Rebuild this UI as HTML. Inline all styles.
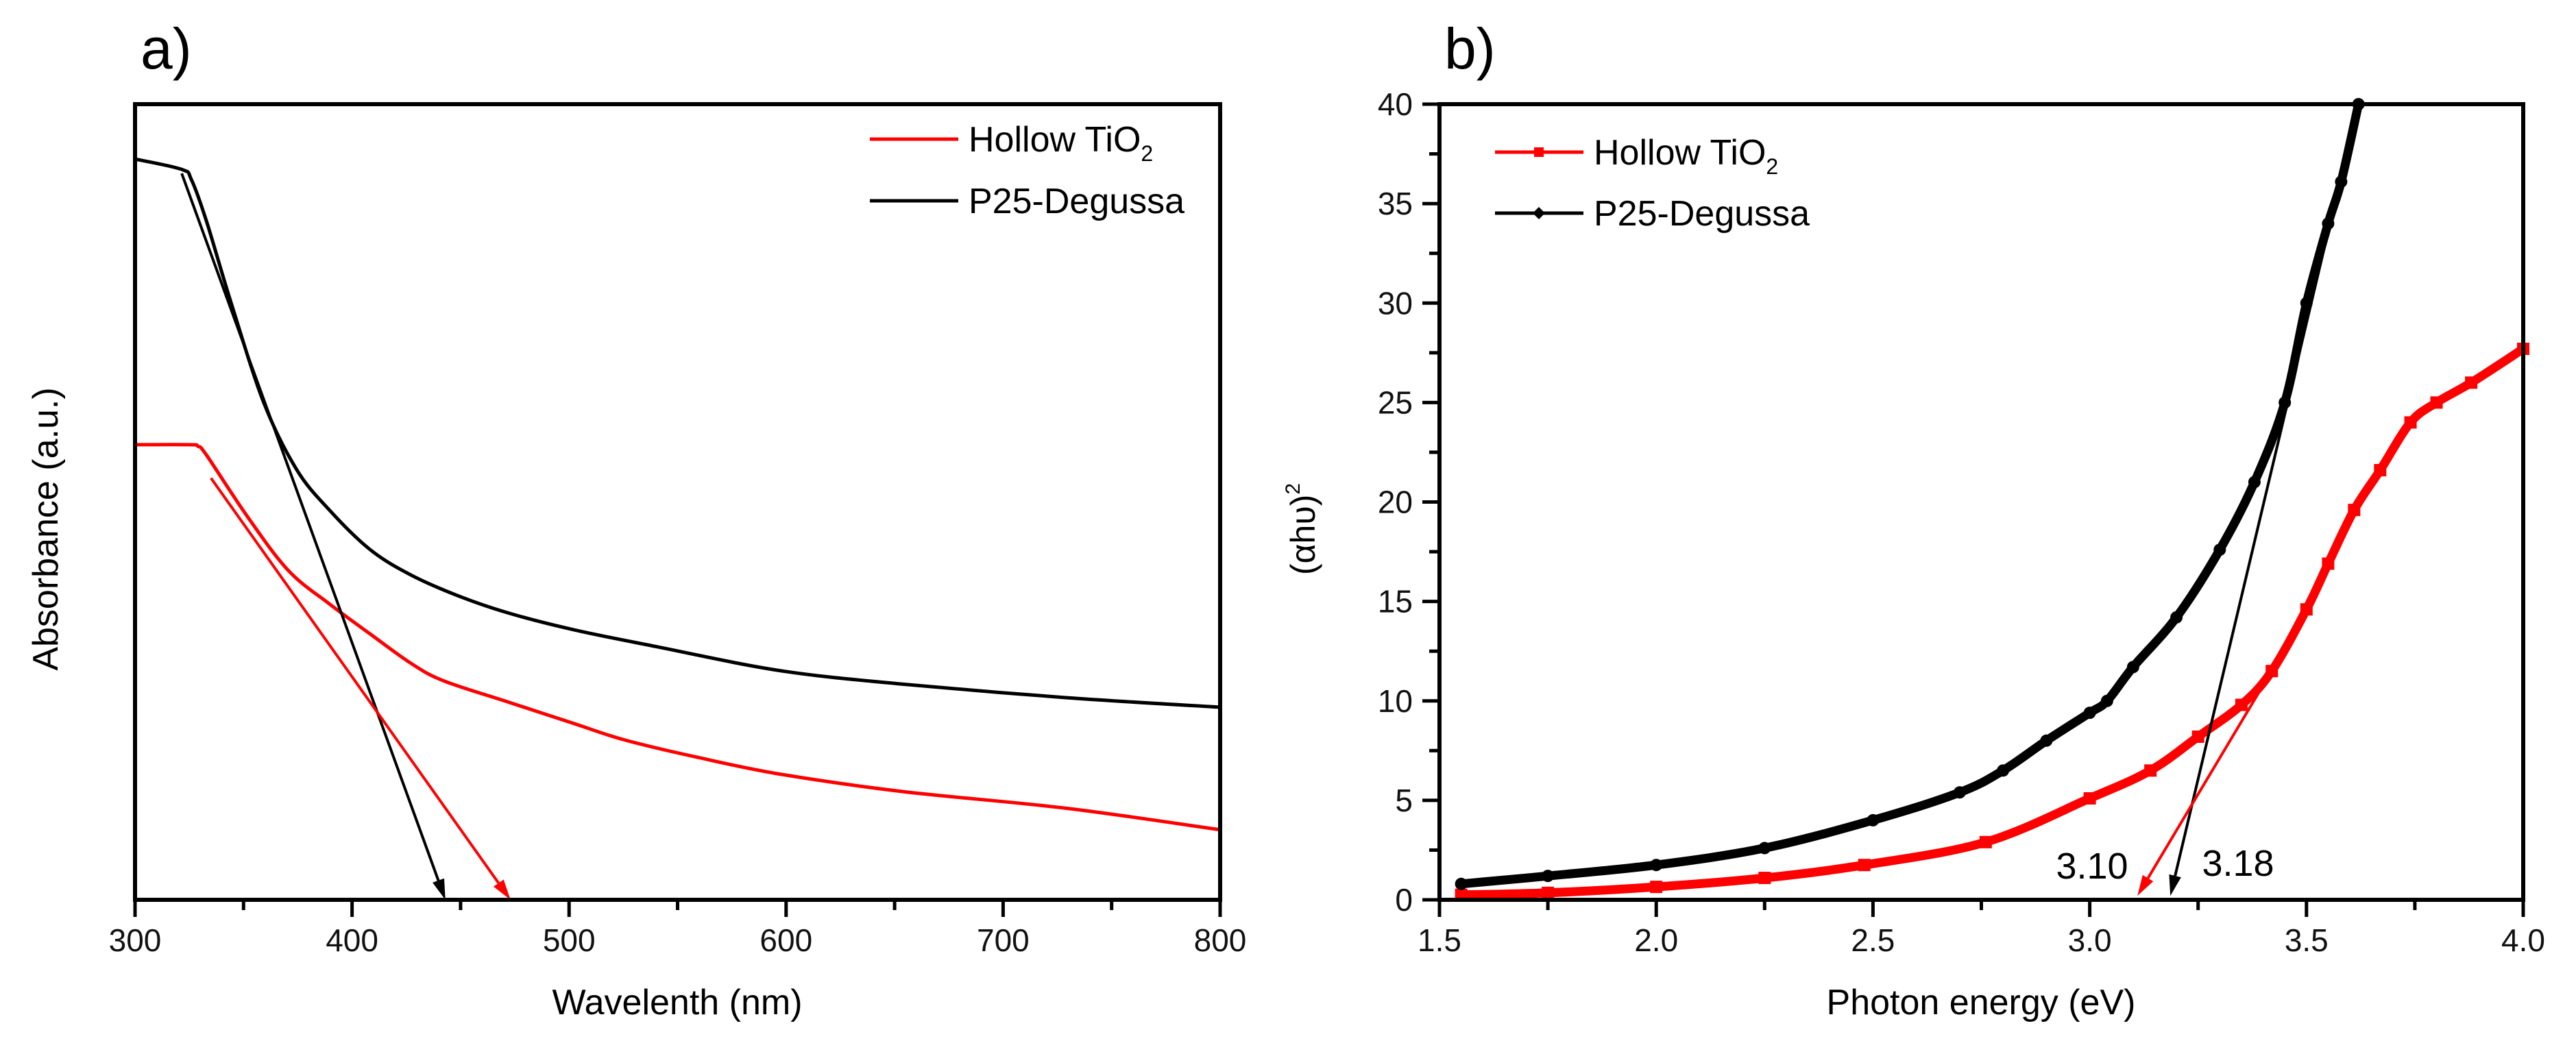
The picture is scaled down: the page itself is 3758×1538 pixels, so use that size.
<!DOCTYPE html>
<html><head><meta charset="utf-8"><style>
html,body{margin:0;padding:0;background:#fff;}
svg text{font-family:"Liberation Sans",sans-serif;}
</style></head><body>
<svg id="fig" width="3758" height="1533" viewBox="0 0 3758 1533" xmlns="http://www.w3.org/2000/svg">
<g id="pa"></g>
<g id="pb"></g>
</svg>
<script>
// ---------- Panel a data ----------
const aWave = [300,321.5,326,332.9,344.2,359.3,374.4,389.5,408.4,427.3,449.9,472.6,502.8,540.6,597.2,653.9,729.4,800];
const aP25 = [93.1,91.8,90.5,85.3,75.1,62.5,54.1,49.0,44.0,40.8,38.1,36.0,33.9,31.8,28.8,27.1,25.4,24.2];
const aHollowWave = [300,325.3,329,332.9,351.7,370.6,389.5,408.4,427.3,442.4,472.6,502.8,525.5,559.4,597.2,653.9,729.4,800];
const aHollow = [57.2,57.2,57.0,55.9,48.2,41.4,37.2,33.4,29.7,27.5,24.8,22.1,20.1,17.9,15.8,13.6,11.5,8.8];
const aXTicks = [300,400,500,600,700,800];
const aTanP25 = [[321.5,91.3],[443,0]];
const aTanHollow = [[335,53],[473,0]];
// ---------- Panel b data ----------
const bP25E = [1.55,1.75,2.0,2.25,2.5,2.7,2.8,2.9,3.0,3.04,3.1,3.2,3.3,3.38,3.45,3.5,3.55,3.58,3.62];
const bP25 = [0.8,1.2,1.75,2.6,4.0,5.4,6.5,8.0,9.4,10.0,11.7,14.2,17.6,21.0,25.0,30.0,34.0,36.1,40];
const bHolE = [1.55,1.75,2.0,2.25,2.48,2.76,3.0,3.14,3.25,3.35,3.42,3.5,3.55,3.61,3.67,3.74,3.8,3.88,4.0];
const bHol = [0.25,0.35,0.65,1.1,1.75,2.9,5.1,6.5,8.2,9.8,11.5,14.6,16.9,19.6,21.6,24.0,25.0,26.0,27.7];
const bXTicks = [1.5,2.0,2.5,3.0,3.5,4.0];
const bYTicks = [0,5,10,15,20,25,30,35,40];
const bTanP25 = [[3.62,40],[3.186,0.2]];
const bTanHollow = [[3.447,12.5],[3.11,0.2]];

const NS="http://www.w3.org/2000/svg";
function mk(parent,tag,attrs,txt){const e=document.createElementNS(NS,tag);for(const k in attrs)e.setAttribute(k,attrs[k]);if(txt!==undefined)e.textContent=txt;parent.appendChild(e);return e;}

function line(g,xs,ys,fx,fy,color,w,name){
  const P=xs.map((x,i)=>[fx(x),fy(ys[i])]);
  let d='M'+P[0][0].toFixed(1)+','+P[0][1].toFixed(1);
  for(let i=0;i<P.length-1;i++){
    const p0=P[Math.max(0,i-1)],p1=P[i],p2=P[i+1],p3=P[Math.min(P.length-1,i+2)];
    const c1=[p1[0]+(p2[0]-p0[0])/6,p1[1]+(p2[1]-p0[1])/6];
    const c2=[p2[0]-(p3[0]-p1[0])/6,p2[1]-(p3[1]-p1[1])/6];
    d+=`C${c1[0].toFixed(1)},${c1[1].toFixed(1)} ${c2[0].toFixed(1)},${c2[1].toFixed(1)} ${p2[0].toFixed(1)},${p2[1].toFixed(1)}`;
  }
  const p=mk(g,'path',{d:d,fill:'none',stroke:color,'stroke-width':w,'stroke-linejoin':'round'});
  
  
  return p;
}
function arrow(g,pts,fx,fy,color,name){
  const x1=fx(pts[0][0]),y1=fy(pts[0][1]),x2=fx(pts[1][0]),y2=fy(pts[1][1]);
  const ang=Math.atan2(y2-y1,x2-x1),L=30,W=9;
  const bx=x2-L*Math.cos(ang),by=y2-L*Math.sin(ang);
  const gg=mk(g,'g',{});
  
  
  mk(gg,'line',{x1:x1,y1:y1,x2:bx,y2:by,stroke:color,'stroke-width':4});
  mk(gg,'polygon',{points:`${x2},${y2} ${bx-W*Math.sin(ang)},${by+W*Math.cos(ang)} ${bx+W*Math.sin(ang)},${by-W*Math.cos(ang)}`,fill:color});
}

// ---------- Panel a ----------
const A={l:197,r:1780,t:152,b:1313};
const ax=v=>A.l+(v-300)/500*(A.r-A.l);
const ay=v=>A.b-v/100*(A.b-A.t);
const pa=document.getElementById('pa');
let t=mk(pa,'text',{x:205,y:100,'font-size':84},'a)');


line(pa,aWave,aP25,ax,ay,'#000',5,'p25-absorbance-line');
line(pa,aHollowWave,aHollow,ax,ay,'#f00',5,'hollow-tio2-absorbance-line');
arrow(pa,aTanP25,ax,ay,'#000','p25-tangent-arrow');
arrow(pa,aTanHollow,ax,ay,'#f00','hollow-tangent-arrow');
let fr=mk(pa,'rect',{x:A.l,y:A.t,width:A.r-A.l,height:A.b-A.t,fill:'none',stroke:'#000','stroke-width':6});


for(let v=300;v<=800;v+=50){
  const major=aXTicks.includes(v);
  mk(pa,'line',{x1:ax(v),y1:A.b,x2:ax(v),y2:A.b+(major?25:15),stroke:'#000','stroke-width':5});
}
aXTicks.forEach(v=>{const e=mk(pa,'text',{x:ax(v),y:1388,'font-size':46,'text-anchor':'middle',fill:'#111'},String(v));
  
  });
t=mk(pa,'text',{x:988,y:1480,'font-size':52,'text-anchor':'middle'},'Wavelenth (nm)');


t=mk(pa,'text',{x:0,y:0,'font-size':52,'text-anchor':'middle',transform:'translate(84,772) rotate(-90)'},'Absorbance (a.u.)');


let lg=mk(pa,'g',{});


mk(lg,'line',{x1:1269,y1:203,x2:1398,y2:203,stroke:'#f00','stroke-width':5});
t=mk(lg,'text',{x:1413,y:221,'font-size':52});t.innerHTML='Hollow TiO<tspan font-size="32" dy="14">2</tspan>';


mk(lg,'line',{x1:1269,y1:293,x2:1398,y2:293,stroke:'#000','stroke-width':5});
t=mk(lg,'text',{x:1413,y:311,'font-size':52},'P25-Degussa');



// ---------- Panel b ----------
const B={l:2100,r:3681,t:152,b:1313};
const bx=v=>B.l+(v-1.5)/2.5*(B.r-B.l);
const by=v=>B.b-v/40*(B.b-B.t);
const pb=document.getElementById('pb');
t=mk(pb,'text',{x:2107,y:100,'font-size':84},'b)');


line(pb,bHolE,bHol,bx,by,'#f00',13,'hollow-tio2-tauc-line');
bHolE.forEach((e,i)=>{const m=mk(pb,'rect',{x:bx(e)-9,y:by(bHol[i])-9,width:18,height:18,fill:'#f00'});
  
  });
line(pb,bP25E,bP25,bx,by,'#000',13,'p25-tauc-line');
bP25E.forEach((e,i)=>{const m=mk(pb,'circle',{cx:bx(e),cy:by(bP25[i]),r:9,fill:'#000'});
  
  });
arrow(pb,bTanP25,bx,by,'#000','p25-tangent-arrow-b');
arrow(pb,bTanHollow,bx,by,'#f00','hollow-tangent-arrow-b');
fr=mk(pb,'rect',{x:B.l,y:B.t,width:B.r-B.l,height:B.b-B.t,fill:'none',stroke:'#000','stroke-width':6});


for(let v=1.5;v<=4.001;v+=0.25){
  const major=Math.abs(v*2-Math.round(v*2))<1e-6;
  mk(pb,'line',{x1:bx(v),y1:B.b,x2:bx(v),y2:B.b+(major?25:15),stroke:'#000','stroke-width':5});
}
for(let v=0;v<=40.001;v+=2.5){
  const major=Math.abs(v/5-Math.round(v/5))<1e-6;
  mk(pb,'line',{x1:B.l,y1:by(v),x2:B.l-(major?25:15),y2:by(v),stroke:'#000','stroke-width':5});
}
bXTicks.forEach(v=>{const e=mk(pb,'text',{x:bx(v),y:1388,'font-size':46,'text-anchor':'middle',fill:'#111'},v.toFixed(1));
  
  });
bYTicks.forEach(v=>{const e=mk(pb,'text',{x:2061,y:by(v)+16,'font-size':46,'text-anchor':'end',fill:'#111'},String(v));
  
  });
t=mk(pb,'text',{x:2890,y:1480,'font-size':52,'text-anchor':'middle'},'Photon energy (eV)');


t=mk(pb,'text',{x:0,y:0,'font-size':50,'text-anchor':'middle','font-family':'"Liberation Serif",serif',transform:'translate(1918,772) rotate(-90)'});
t.innerHTML='(αhυ)<tspan font-size="30" dy="-22">2</tspan>';


t=mk(pb,'text',{x:3052,y:1282,'font-size':54,'text-anchor':'middle'},'3.10');


t=mk(pb,'text',{x:3265,y:1278,'font-size':54,'text-anchor':'middle'},'3.18');


lg=mk(pb,'g',{});


mk(lg,'line',{x1:2181,y1:222,x2:2310,y2:222,stroke:'#f00','stroke-width':5});
mk(lg,'rect',{x:2238,y:215,width:14,height:14,fill:'#f00'});
t=mk(lg,'text',{x:2325,y:240,'font-size':52});t.innerHTML='Hollow TiO<tspan font-size="32" dy="14">2</tspan>';


mk(lg,'line',{x1:2181,y1:311,x2:2310,y2:311,stroke:'#000','stroke-width':5});
mk(lg,'polygon',{points:'2245,302 2254,311 2245,320 2236,311',fill:'#000'});
t=mk(lg,'text',{x:2325,y:329,'font-size':52},'P25-Degussa');


</script>
</body></html>
